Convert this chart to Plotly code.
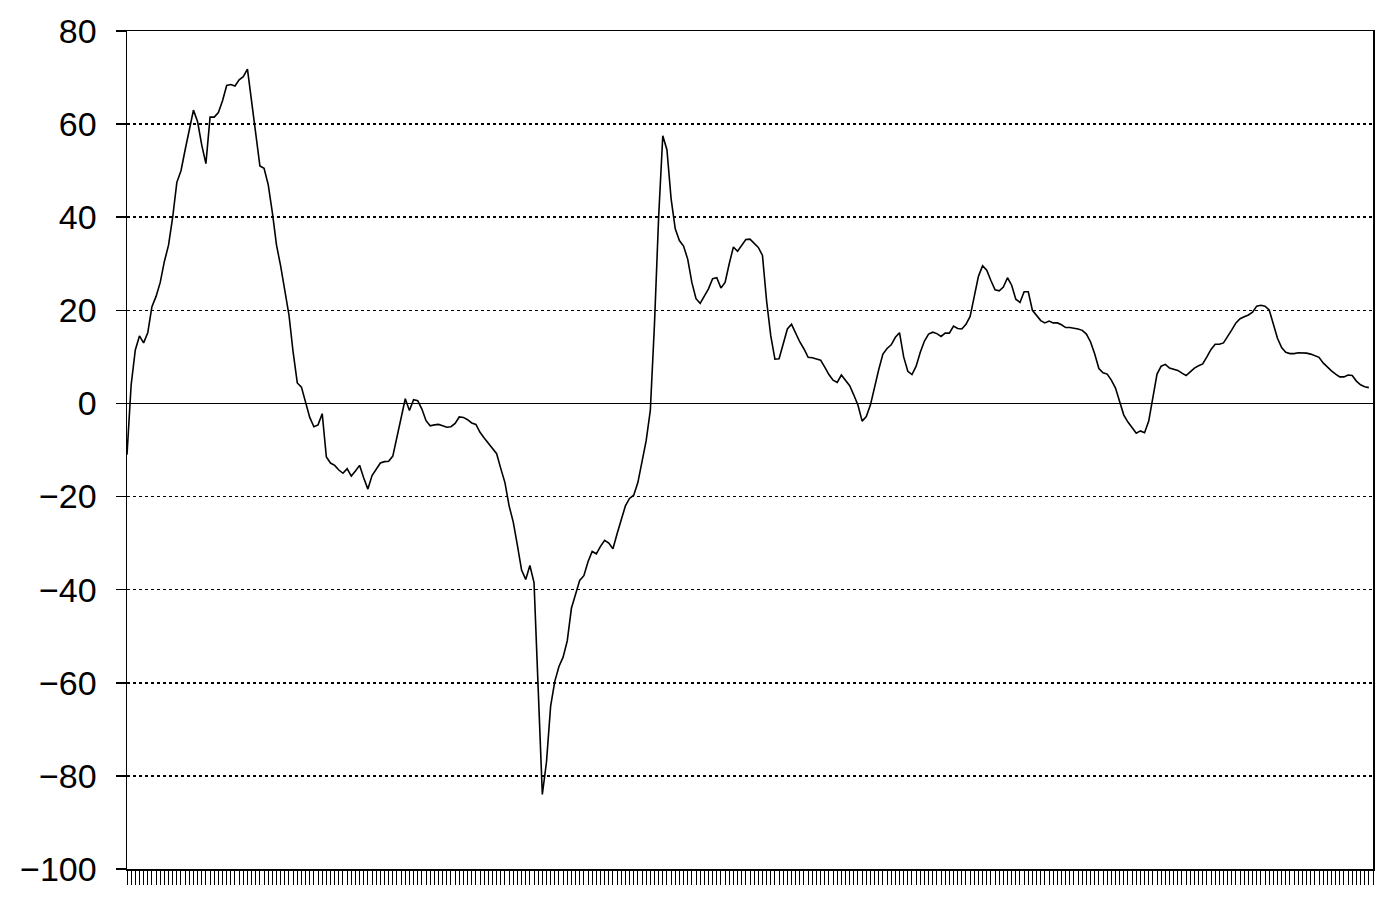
import plotly.graph_objects as go

# Period index (one value per period) and series values
periods = list(range(300))
values = [
    -11, 4, 11.5, 14.5, 13, 15.2, 20.8, 23, 26, 30.5,
    34, 40, 47.5, 50, 54.5, 59, 63, 60.5, 55.5, 51.5,
    61.5, 61.5, 62.5, 65, 68.3, 68.5, 68.2, 69.5, 70.2, 71.8,
    65, 57, 51, 50.5, 47, 41, 34, 29.5, 24.5, 19,
    11, 4.4, 3.5, 0.5, -3, -5, -4.6, -2.2, -11.5, -12.8,
    -13.3, -14.3, -15, -14, -15.6, -14.5, -13.3, -16, -18.4, -15.5,
    -14, -12.8, -12.5, -12.4, -11.3, -7, -2.5, 1, -1.5, 0.8,
    0.6, -1.2, -3.7, -4.8, -4.6, -4.5, -4.8, -5.1, -5, -4.3,
    -2.9, -3, -3.5, -4.2, -4.5, -6.2, -7.4, -8.5, -9.7, -10.8,
    -14, -17, -22, -25.5, -30.5, -35.8, -37.8, -34.8, -38.5, -62,
    -84, -77, -65, -59.7, -56.5, -54.5, -51, -44, -41, -38,
    -37, -34, -31.8, -32.3, -30.7, -29.4, -30, -31.2, -28, -25,
    -22, -20.4, -19.7, -17, -12.8, -8, -1.5, 17, 40, 57.5,
    54.5, 44, 37.5, 35, 33.8, 31, 26, 22.5, 21.5, 23.2,
    24.6, 26.8, 27, 24.8, 26, 30, 33.6, 32.7, 34, 35.2,
    35.3, 34.3, 33.5, 31.8, 22, 14.5, 9.5, 9.6, 13, 16,
    17, 15, 13.2, 11.7, 9.9, 9.8, 9.6, 9.3, 7.8, 6.2,
    5, 4.5, 6.1, 5, 3.8, 1.8, -0.4, -3.8, -2.8, -0.3,
    3.6, 7.3, 10.6, 11.8, 12.6, 14.2, 15.2, 10, 6.9, 6.2,
    8, 11, 13.4, 14.9, 15.3, 15, 14.4, 15.1, 15.1, 16.6,
    16.1, 16, 17, 18.7, 23, 27.3, 29.6, 28.6, 26.4, 24.4,
    24.2, 25, 27, 25.4, 22.4, 21.7, 24, 24, 20, 18.8,
    17.8, 17.3, 17.7, 17.3, 17.3, 16.9, 16.3, 16.3, 16.2, 16,
    15.7, 14.9, 13.2, 10.6, 7.5, 6.6, 6.3, 5, 3.3, 0.5,
    -2.5, -4, -5.1, -6.4, -5.9, -6.3, -3.8, 1.3, 6.3, 8,
    8.4, 7.6, 7.3, 7.1, 6.5, 6, 6.8, 7.6, 8.1, 8.5,
    10, 11.6, 12.7, 12.7, 13, 14.3, 15.8, 17.3, 18.2, 18.6,
    19, 19.6, 20.9, 21.1, 20.9, 20.1, 17.2, 14, 12, 11,
    10.7, 10.7, 10.9, 10.9, 10.8, 10.6, 10.3, 9.9, 8.7, 7.8,
    7, 6.3, 5.7, 5.7, 6.1, 6, 4.8, 4, 3.6, 3.4,
]

y_ticks = [80, 60, 40, 20, 0, -20, -40, -60, -80, -100]

fig = go.Figure()
fig.add_trace(go.Scatter(
    x=periods, y=values, mode="lines",
    line=dict(color="black", width=1.6),
    hoverinfo="skip", showlegend=False,
))

fig.update_layout(
    width=1378, height=898,
    margin=dict(l=127, r=5, t=31, b=29, autoexpand=False),
    paper_bgcolor="white", plot_bgcolor="white",
    font=dict(family="Liberation Sans, Arial, sans-serif", color="black"),
)

fig.update_xaxes(
    range=[0, 300], automargin=False,
    tickmode="linear", tick0=0, dtick=1,
    ticks="outside", ticklen=14, tickwidth=1, tickcolor="black",
    showticklabels=False,
    showgrid=False, zeroline=False,
    showline=True, linecolor="black", linewidth=1.5, mirror=True,
)

fig.update_yaxes(
    range=[-100, 80], automargin=False,
    tickmode="array", tickvals=y_ticks,
    ticks="outside", ticklen=10, tickwidth=1.5, tickcolor="black",
    tickfont=dict(size=34, color="black"),
    ticklabelstandoff=12,
    showgrid=True, gridcolor="black", gridwidth=1.5, griddash="dot",
    zeroline=True, zerolinecolor="black", zerolinewidth=1.5,
    showline=True, linecolor="black", linewidth=1.5, mirror=True,
)

fig.write_html(
    "out.html",
    config={"displayModeBar": False, "staticPlot": True},
    post_script="document.body.style.margin='0';document.body.style.padding='0';"
                "document.body.style.overflow='hidden';",
)
